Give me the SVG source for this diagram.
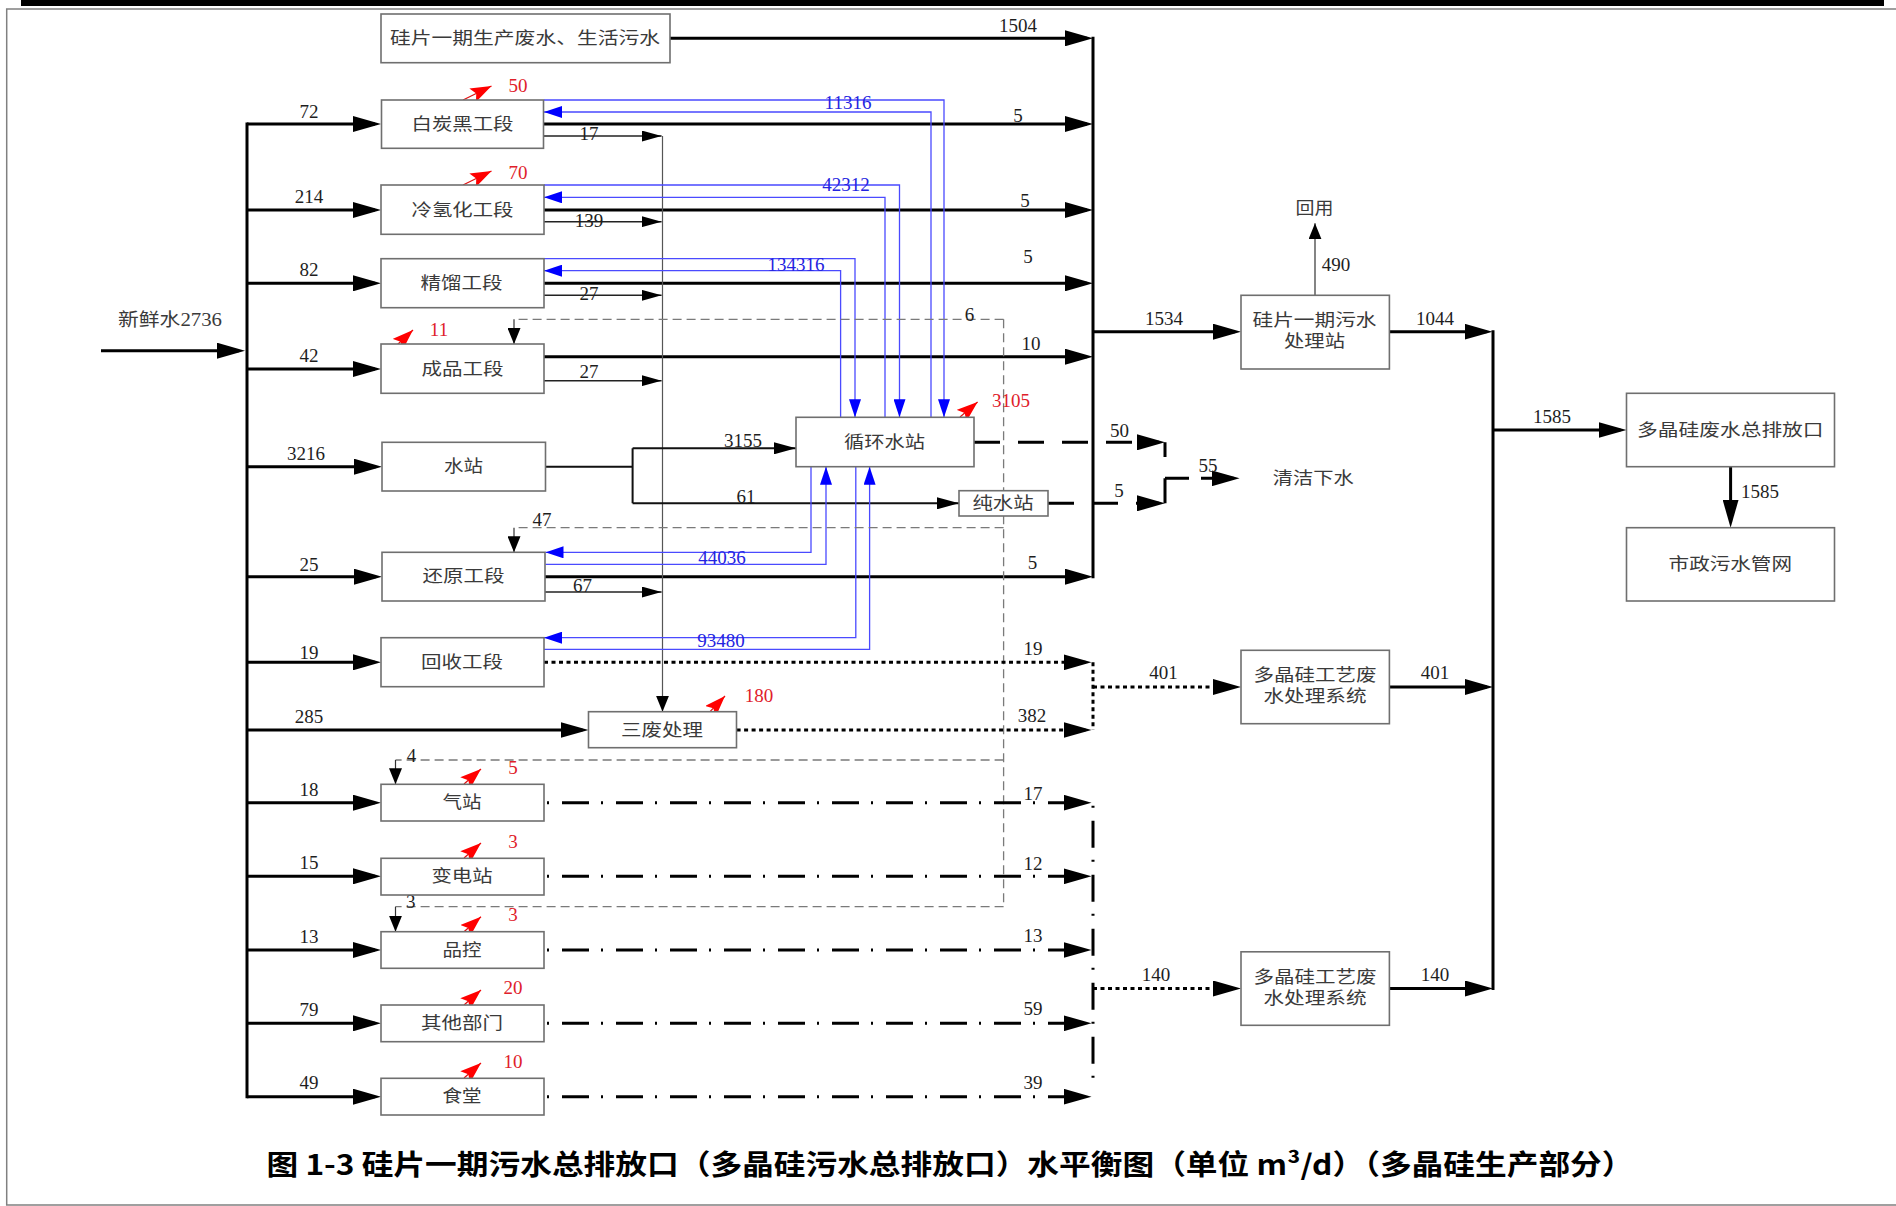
<svg xmlns="http://www.w3.org/2000/svg" width="1896" height="1206" viewBox="0 0 1896 1206">
<style>
.bx{fill:#fff;stroke:#6f6f6f;stroke-width:1.6}
.t{font-family:"Liberation Serif","Noto Sans CJK SC",serif;font-size:17px;fill:#3a3a3a;text-anchor:middle;dominant-baseline:central}
.n{font-family:"Liberation Serif","Noto Sans CJK SC",serif;font-size:19px;fill:#1e1e1e;text-anchor:middle;dominant-baseline:central}
.r{fill:#e0202a}
.b{fill:#2424e0}
.th{fill:none;stroke:#000;stroke-width:3}
.bus{fill:none;stroke:#000;stroke-width:3;stroke-linecap:square}
.dot{fill:none;stroke:#000;stroke-width:3;stroke-dasharray:4 3.5}
.dsh{fill:none;stroke:#000;stroke-width:3;stroke-dasharray:26 18}
.dd{fill:none;stroke:#000;stroke-width:3;stroke-dasharray:27 12 2 13;stroke-dashoffset:36}
.gd{fill:none;stroke:#7a7a7a;stroke-width:1.3;stroke-dasharray:9 5}
.sd{fill:none;stroke:#333;stroke-width:1.2}
.tk{fill:none;stroke:#222;stroke-width:1.5}
.md{fill:none;stroke:#111;stroke-width:2}
.bl{fill:none;stroke:#4a4aff;stroke-width:1.3}
.rd{fill:none;stroke:#e01010;stroke-width:1.2}
.cap{font-family:"Noto Sans CJK SC",sans-serif;font-size:28px;font-weight:bold;fill:#000;dominant-baseline:central}
</style>
<defs>
<marker id="ah" markerUnits="userSpaceOnUse" markerWidth="28" markerHeight="16" refX="22" refY="8" orient="auto"><path d="M0,0 L28,8 L0,16 z" fill="#000"/></marker>
<marker id="at" markerUnits="userSpaceOnUse" markerWidth="20" markerHeight="11" refX="20" refY="5.5" orient="auto"><path d="M0,0 L20,5.5 L0,11 z" fill="#000"/></marker>
<marker id="am" markerUnits="userSpaceOnUse" markerWidth="22" markerHeight="12" refX="22" refY="6" orient="auto"><path d="M0,0 L22,6 L0,12 z" fill="#000"/></marker>
<marker id="ad" markerUnits="userSpaceOnUse" markerWidth="16" markerHeight="13" refX="16" refY="6.5" orient="auto"><path d="M0,0 L16,6.5 L0,13 z" fill="#000"/></marker>
<marker id="ab" markerUnits="userSpaceOnUse" markerWidth="18" markerHeight="12" refX="18" refY="6" orient="auto"><path d="M0,0 L18,6 L0,12 z" fill="#0000ff"/></marker>
<marker id="ar" markerUnits="userSpaceOnUse" markerWidth="21" markerHeight="15" refX="21" refY="7.5" orient="auto"><path d="M0,0 L21,7.5 L0,15 L4,7.5 z" fill="#ff0000"/></marker>
</defs>
<rect x="0" y="0" width="1896" height="1206" fill="#fff"/>
<rect x="21" y="0" width="1863" height="6" fill="#000"/>
<path d="M1897,9 H6.7 V1205 H1897" fill="none" stroke="#808080" stroke-width="1.5"/>

<g id="connectors">
<path class="th" d="M101,350.7 H239" marker-end="url(#ah)"/>
<path class="bus" d="M247,124 V1096.7"/>
<path class="th" d="M247,124 H375" marker-end="url(#ah)"/>
<path class="th" d="M247,210 H375" marker-end="url(#ah)"/>
<path class="th" d="M247,283.3 H375" marker-end="url(#ah)"/>
<path class="th" d="M247,369 H375" marker-end="url(#ah)"/>
<path class="th" d="M247,466.7 H376" marker-end="url(#ah)"/>
<path class="th" d="M247,576.7 H376" marker-end="url(#ah)"/>
<path class="th" d="M247,662.3 H375" marker-end="url(#ah)"/>
<path class="th" d="M247,730 H582.5" marker-end="url(#ah)"/>
<path class="th" d="M247,802.7 H375" marker-end="url(#ah)"/>
<path class="th" d="M247,876.3 H375" marker-end="url(#ah)"/>
<path class="th" d="M247,950 H375" marker-end="url(#ah)"/>
<path class="th" d="M247,1023.3 H375" marker-end="url(#ah)"/>
<path class="th" d="M247,1096.7 H375" marker-end="url(#ah)"/>
<path class="th" d="M670,38.3 H1087" marker-end="url(#ah)"/>
<path class="th" d="M544,124 H1087" marker-end="url(#ah)"/>
<path class="th" d="M544,210 H1087" marker-end="url(#ah)"/>
<path class="th" d="M544,283.3 H1087" marker-end="url(#ah)"/>
<path class="th" d="M544,356.7 H1087" marker-end="url(#ah)"/>
<path class="th" d="M545,576.7 H1087" marker-end="url(#ah)"/>
<path class="bus" d="M1093,38.3 V576.7"/>
<path class="th" d="M1093,331.7 H1235" marker-end="url(#ah)"/>
<path class="th" d="M1389,331.7 H1486.5" marker-end="url(#ah)"/>
<path class="bus" d="M1493,331.7 V988.5"/>
<path class="th" d="M1493,430 H1620.5" marker-end="url(#ah)"/>
<path class="th" d="M1730.6,466.7 V521.7" marker-end="url(#ah)"/>
<path class="th" d="M1389,687 H1487" marker-end="url(#ah)"/>
<path class="th" d="M1389,988.5 H1487" marker-end="url(#ah)"/>
<path class="sd" d="M1315,295.3 V223.3" marker-end="url(#ad)"/>
<path class="tk" d="M544,136 H661.6" marker-end="url(#at)"/>
<path class="tk" d="M544,221.7 H661.6" marker-end="url(#at)"/>
<path class="tk" d="M544,295.3 H661.6" marker-end="url(#at)"/>
<path class="tk" d="M544,380.7 H661.6" marker-end="url(#at)"/>
<path class="tk" d="M545,592 H661.6" marker-end="url(#at)"/>
<path fill="none" stroke="#555" stroke-width="1.2" d="M662.5,136 V711.7" marker-end="url(#ad)"/>
<path class="md" d="M545.5,466.7 H632.6 M632.6,448.3 V503.3"/>
<path class="md" d="M632.6,448.3 H796" marker-end="url(#am)"/>
<path class="md" d="M632.6,503.3 H959" marker-end="url(#am)"/>
<path class="bl" d="M544,100 H944 V417.3" marker-end="url(#ab)"/>
<path class="bl" d="M931,417.3 V112 H544" marker-end="url(#ab)"/>
<path class="bl" d="M544,185 H899.5 V417.3" marker-end="url(#ab)"/>
<path class="bl" d="M885,417.3 V197.3 H544" marker-end="url(#ab)"/>
<path class="bl" d="M544,258.7 H855 V417.3" marker-end="url(#ab)"/>
<path class="bl" d="M840.6,417.3 V270.7 H544" marker-end="url(#ab)"/>
<path class="bl" d="M811,466.7 V552.3 H545.5" marker-end="url(#ab)"/>
<path class="bl" d="M545.5,564.3 H826 V466.7" marker-end="url(#ab)"/>
<path class="bl" d="M855.8,466.7 V637.7 H544" marker-end="url(#ab)"/>
<path class="bl" d="M544,649.3 H869.6 V466.7" marker-end="url(#ab)"/>
<path class="gd" d="M1003.6,319.3 V906.7"/>
<path class="gd" d="M1003.6,319.3 H514"/>
<path class="gd" d="M1003.6,527.7 H514"/>
<path class="gd" d="M1003.6,760 H395.5"/>
<path class="gd" d="M1003.6,906.7 H395.5"/>
<path class="sd" d="M514,319.3 V344" marker-end="url(#ad)"/>
<path class="sd" d="M514,527.7 V552.3" marker-end="url(#ad)"/>
<path class="sd" d="M395.5,760 V784.3" marker-end="url(#ad)"/>
<path class="sd" d="M395.5,906.7 V931.7" marker-end="url(#ad)"/>
<path class="dsh" d="M974,442.3 H1159" marker-end="url(#ah)"/>
<path class="dsh" d="M1048,503.3 H1159" marker-end="url(#ah)"/>
<path class="th" d="M1165,442.3 V457 M1165,478.3 V503.3 M1165,478.3 H1189 M1201,478.3 H1233.6" marker-end="url(#ah)"/>
<path class="dot" d="M544,662.3 H1085.5" marker-end="url(#ah)"/>
<path class="dot" d="M736.6,730 H1085.5" marker-end="url(#ah)"/>
<path class="dot" d="M1093,662.3 V730"/>
<path class="dot" d="M1093,687 H1235" marker-end="url(#ah)"/>
<path class="dot" d="M1093,988.5 H1235" marker-end="url(#ah)"/>
<path class="dd" d="M544,802.7 H1085.5" marker-end="url(#ah)"/>
<path class="dd" d="M544,876.3 H1085.5" marker-end="url(#ah)"/>
<path class="dd" d="M544,950 H1085.5" marker-end="url(#ah)"/>
<path class="dd" d="M544,1023.3 H1085.5" marker-end="url(#ah)"/>
<path class="dd" d="M544,1096.7 H1085.5" marker-end="url(#ah)"/>
<path class="dd" d="M1093,802.7 V1090"/>
<path class="rd" d="M463,100 L491.5,86" marker-end="url(#ar)"/>
<path class="rd" d="M463,185 L491.5,171" marker-end="url(#ar)"/>
<path class="rd" d="M397,345 L413,330" marker-end="url(#ar)"/>
<path class="rd" d="M960,417 L977.6,402" marker-end="url(#ar)"/>
<path class="rd" d="M710,711.7 L725,696" marker-end="url(#ar)"/>
<path class="rd" d="M464,784 L481,769" marker-end="url(#ar)"/>
<path class="rd" d="M464,858 L481,843" marker-end="url(#ar)"/>
<path class="rd" d="M464,931.7 L481,916.7" marker-end="url(#ar)"/>
<path class="rd" d="M464,1005 L481,990" marker-end="url(#ar)"/>
<path class="rd" d="M464,1078 L481,1063" marker-end="url(#ar)"/>
<text class="n" x="309" y="111">72</text>
<text class="n" x="309" y="196">214</text>
<text class="n" x="309" y="269">82</text>
<text class="n" x="309" y="355">42</text>
<text class="n" x="306" y="453.3">3216</text>
<text class="n" x="309" y="564">25</text>
<text class="n" x="309" y="652.3">19</text>
<text class="n" x="309" y="716.7">285</text>
<text class="n" x="309" y="789.3">18</text>
<text class="n" x="309" y="862.7">15</text>
<text class="n" x="309" y="936">13</text>
<text class="n" x="309" y="1009.3">79</text>
<text class="n" x="309" y="1082.7">49</text>
<text class="n" x="1018" y="25">1504</text>
<text class="n" x="1018" y="115.7">5</text>
<text class="n" x="1025" y="200">5</text>
<text class="n" x="1028" y="256">5</text>
<text class="n" x="1031" y="343">10</text>
<text class="n" x="969.6" y="314">6</text>
<text class="n" x="1032.5" y="562.7">5</text>
<text class="n" x="1033" y="648.3">19</text>
<text class="n" x="1032" y="715.7">382</text>
<text class="n" x="1033" y="793.3">17</text>
<text class="n" x="1033" y="863.3">12</text>
<text class="n" x="1033" y="935">13</text>
<text class="n" x="1033" y="1008.3">59</text>
<text class="n" x="1033" y="1082.3">39</text>
<text class="n" x="1119.6" y="430.7">50</text>
<text class="n" x="1119" y="490.7">5</text>
<text class="n" x="1208" y="465">55</text>
<text class="n" x="1164" y="318.3">1534</text>
<text class="n" x="1435" y="318">1044</text>
<text class="n" x="1336" y="264.3">490</text>
<text class="n" x="1552" y="416.7">1585</text>
<text class="n" x="1760" y="491.7">1585</text>
<text class="n" x="1163.5" y="672.7">401</text>
<text class="n" x="1435" y="672.7">401</text>
<text class="n" x="1156" y="974">140</text>
<text class="n" x="1435" y="974">140</text>
<text class="n" x="589" y="133">17</text>
<text class="n" x="589" y="220">139</text>
<text class="n" x="589" y="293">27</text>
<text class="n" x="589" y="371.5">27</text>
<text class="n" x="582.6" y="585">67</text>
<text class="n" x="743" y="440.7">3155</text>
<text class="n" x="746" y="496">61</text>
<text class="n" x="542" y="519.3">47</text>
<text class="n" x="411.6" y="755">4</text>
<text class="n" x="410.7" y="901.7">3</text>
<text class="n b" x="848" y="102">11316</text>
<text class="n b" x="846" y="184">42312</text>
<text class="n b" x="796" y="264">134316</text>
<text class="n b" x="722" y="557.7">44036</text>
<text class="n b" x="721" y="640">93480</text>
<text class="n r" x="518" y="85">50</text>
<text class="n r" x="518" y="172">70</text>
<text class="n r" x="439" y="329">11</text>
<text class="n r" x="1011" y="400">3105</text>
<text class="n r" x="759" y="695">180</text>
<text class="n r" x="513" y="767.7">5</text>
<text class="n r" x="513" y="841">3</text>
<text class="n r" x="513" y="914.3">3</text>
<text class="n r" x="513" y="987.7">20</text>
<text class="n r" x="513" y="1061">10</text>
</g>

<g id="n_src"><rect class="bx" x="381" y="14" width="289" height="48.7"/><text class="t" x="525" y="38.3" textLength="270" lengthAdjust="spacingAndGlyphs">硅片一期生产废水、生活污水</text></g>
<g id="n_bth"><rect class="bx" x="381.5" y="100" width="162" height="48.3"/><text class="t" x="462.5" y="124" textLength="102" lengthAdjust="spacingAndGlyphs">白炭黑工段</text></g>
<g id="n_lqh"><rect class="bx" x="381" y="185" width="163" height="49.3"/><text class="t" x="462.5" y="210" textLength="102" lengthAdjust="spacingAndGlyphs">冷氢化工段</text></g>
<g id="n_jl"><rect class="bx" x="381" y="258.7" width="163" height="49"/><text class="t" x="461.5" y="283.3" textLength="82" lengthAdjust="spacingAndGlyphs">精馏工段</text></g>
<g id="n_cp"><rect class="bx" x="381" y="344" width="163" height="49.3"/><text class="t" x="462.5" y="369" textLength="82" lengthAdjust="spacingAndGlyphs">成品工段</text></g>
<g id="n_sz"><rect class="bx" x="382" y="442.3" width="163.5" height="48.7"/><text class="t" x="463.5" y="466.7" textLength="39" lengthAdjust="spacingAndGlyphs">水站</text></g>
<g id="n_hy"><rect class="bx" x="382" y="552.3" width="163" height="48.7"/><text class="t" x="463.5" y="576.7" textLength="82" lengthAdjust="spacingAndGlyphs">还原工段</text></g>
<g id="n_hs"><rect class="bx" x="381" y="637.7" width="163" height="49"/><text class="t" x="462" y="662.3" textLength="82" lengthAdjust="spacingAndGlyphs">回收工段</text></g>
<g id="n_sf"><rect class="bx" x="588.5" y="711.7" width="148" height="36"/><text class="t" x="662" y="730" textLength="82" lengthAdjust="spacingAndGlyphs">三废处理</text></g>
<g id="n_xh"><rect class="bx" x="796" y="417.3" width="178" height="49.4"/><text class="t" x="884.5" y="442.3" textLength="81" lengthAdjust="spacingAndGlyphs">循环水站</text></g>
<g id="n_cs"><rect class="bx" x="959" y="490.7" width="89" height="25.3"/><text class="t" x="1003" y="503.3" textLength="61" lengthAdjust="spacingAndGlyphs">纯水站</text></g>
<g id="n_qz"><rect class="bx" x="381" y="784.3" width="163" height="36.7"/><text class="t" x="462" y="802.7" textLength="39" lengthAdjust="spacingAndGlyphs">气站</text></g>
<g id="n_bd"><rect class="bx" x="381" y="858.3" width="163" height="36.7"/><text class="t" x="462" y="876.3" textLength="61" lengthAdjust="spacingAndGlyphs">变电站</text></g>
<g id="n_pk"><rect class="bx" x="381" y="931.7" width="163" height="36.6"/><text class="t" x="462" y="950" textLength="39" lengthAdjust="spacingAndGlyphs">品控</text></g>
<g id="n_qt"><rect class="bx" x="381" y="1005" width="163" height="36.7"/><text class="t" x="462" y="1023.3" textLength="82" lengthAdjust="spacingAndGlyphs">其他部门</text></g>
<g id="n_st"><rect class="bx" x="381" y="1078.3" width="163" height="36.7"/><text class="t" x="462" y="1096.7" textLength="39" lengthAdjust="spacingAndGlyphs">食堂</text></g>
<g id="n_wsz"><rect class="bx" x="1241" y="295.3" width="148.4" height="73.7"/><text class="t" x="1314.5" y="320.7" textLength="124" lengthAdjust="spacingAndGlyphs">硅片一期污水</text><text class="t" x="1314.5" y="341.7" textLength="61" lengthAdjust="spacingAndGlyphs">处理站</text></g>
<g id="n_dj1"><rect class="bx" x="1241" y="650.3" width="148.4" height="73.4"/><text class="t" x="1315" y="675.4" textLength="123" lengthAdjust="spacingAndGlyphs">多晶硅工艺废</text><text class="t" x="1315" y="696.7" textLength="103" lengthAdjust="spacingAndGlyphs">水处理系统</text></g>
<g id="n_dj2"><rect class="bx" x="1241" y="951.8" width="148.4" height="73.5"/><text class="t" x="1315" y="977" textLength="123" lengthAdjust="spacingAndGlyphs">多晶硅工艺废</text><text class="t" x="1315" y="998" textLength="103" lengthAdjust="spacingAndGlyphs">水处理系统</text></g>
<g id="n_zpk"><rect class="bx" x="1626.5" y="393.3" width="208" height="73.4"/><text class="t" x="1730.3" y="430" textLength="186.5" lengthAdjust="spacingAndGlyphs">多晶硅废水总排放口</text></g>
<g id="n_szgw"><rect class="bx" x="1626.5" y="527.7" width="208" height="73.3"/><text class="t" x="1730.3" y="564.3" textLength="123.4" lengthAdjust="spacingAndGlyphs">市政污水管网</text></g>
<g id="n_fresh"><text class="t" x="170" y="320" style="font-size:18.5px" textLength="104" lengthAdjust="spacingAndGlyphs">新鲜水2736</text></g>
<g id="n_clean"><text class="t" x="1313.3" y="478.3" textLength="81" lengthAdjust="spacingAndGlyphs">清洁下水</text></g>
<g id="n_reuse"><text class="t" x="1314.5" y="208.3" textLength="38" lengthAdjust="spacingAndGlyphs">回用</text></g>

<text class="cap" x="266.5" y="1163" textLength="1367" lengthAdjust="spacingAndGlyphs">图 1-3 硅片一期污水总排放口（多晶硅污水总排放口）水平衡图（单位 m³/d）（多晶硅生产部分）</text>
</svg>
